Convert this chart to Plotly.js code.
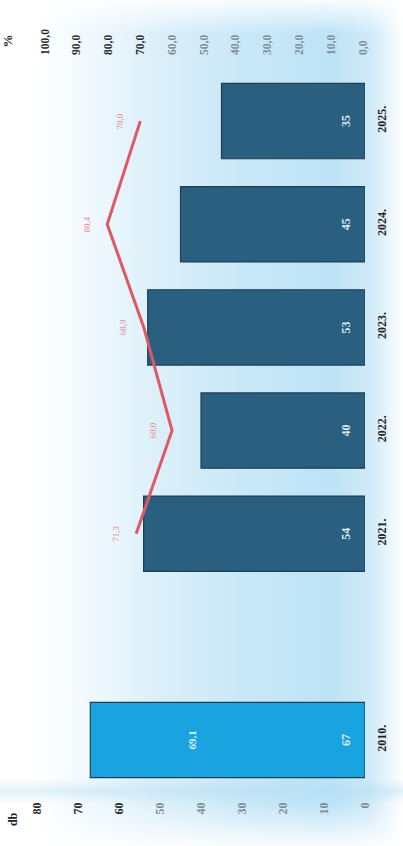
<!DOCTYPE html>
<html>
<head>
<meta charset="utf-8">
<script src="https://cdn.plot.ly/plotly-3.0.1.min.js"></script>
<style>
  html, body { margin: 0; padding: 0; background: #ffffff; }
  #wrap { position: relative; width: 403px; height: 846px; overflow: hidden; }
  #bg {
    position: absolute; left: 0; top: 0; width: 403px; height: 846px;
    background:
      linear-gradient(to bottom, rgba(255,255,255,0.9) 0%, rgba(255,255,255,0) 4%, rgba(255,255,255,0) 92%, rgba(170,215,240,0.35) 93.5%, rgba(255,255,255,0.0) 95%, rgba(255,255,255,0.9) 100%),
      linear-gradient(to right, #ffffff 0%, #ffffff 9%, #f2fafe 20%, #ddf0fa 38%, #c9e8f7 60%, #bde3f6 82%, #cfeaf8 92%, #ffffff 100%);
  }
  #chart { position: absolute; left: 0; top: 0; width: 403px; height: 846px; }
</style>
</head>
<body>
<div id="wrap">
  <div id="bg"></div>
  <div id="chart"></div>
</div>
<script>
// ---- data ----
const years = ['2010.', '2021.', '2022.', '2023.', '2024.', '2025.'];
const counts = [67, 54, 40, 53, 45, 35];
const pctYears = ['2021.', '2022.', '2023.', '2024.', '2025.'];
const pctValues = [71.3, 60.0, 68.9, 80.4, 70.0];
const label2010 = '69,1';
const dbTicks = [0, 10, 20, 30, 40, 50, 60, 70, 80];
const pctTicks = [0, 10, 20, 30, 40, 50, 60, 70, 80, 90, 100];
const gapCategory = ' ';

// ---- build ----
const categoryOrder = [years[0], gapCategory].concat(years.slice(1));
const catIndex = y => categoryOrder.indexOf(y);
const barColors = years.map((y, i) => i === 0 ? '#19a3df' : '#2b5f80');
const fmt = v => v.toFixed(1).replace('.', ',');

const serif = 'Liberation Serif, DejaVu Serif, serif';
const dbTickText = dbTicks.map(v => {
  const c = v >= 60 ? '#2a2a2a' : '#7f8c94';
  return '<span style="color:' + c + '">' + v + '</span>';
});
const pctTickText = pctTicks.map(v => {
  const c = v >= 70 ? '#2a2a2a' : '#7f8c94';
  return '<span style="color:' + c + '">' + fmt(v) + '</span>';
});

const barTrace = {
  type: 'bar',
  orientation: 'h',
  y: years,
  x: counts,
  xaxis: 'x',
  yaxis: 'y',
  marker: { color: barColors, line: { color: '#1d3f55', width: 1.2 } },
  hoverinfo: 'skip'
};

const gapTrace = {
  type: 'bar', orientation: 'h', y: [gapCategory], x: [null],
  xaxis: 'x', yaxis: 'y', showlegend: false, hoverinfo: 'skip'
};

const lineTrace = {
  type: 'scatter',
  mode: 'lines',
  y: pctYears,
  x: pctValues,
  xaxis: 'x2',
  yaxis: 'y',
  line: { color: '#e05866', width: 3 },
  hoverinfo: 'skip'
};

const annotations = pctYears.map((y, i) => ({
  x: pctValues[i], y: catIndex(y), xref: 'x2', yref: 'y',
  text: fmt(pctValues[i]), showarrow: false, textangle: -90,
  xshift: -20, font: { family: serif, size: 9, color: '#e98a8a' }
}));
years.forEach((y, i) => annotations.push({
  x: 0, y: catIndex(y), xref: 'x', yref: 'y',
  text: String(counts[i]), showarrow: false, textangle: -90,
  xshift: -19, font: { family: serif, size: 12, color: '#dfe8ee', weight: 700 }
}));
annotations.push({
  x: counts[0] / 2, y: catIndex(years[0]), xref: 'x', yref: 'y',
  text: label2010, showarrow: false, textangle: -90, xshift: -36,
  font: { family: serif, size: 11, color: '#d8eef8', weight: 700 }
});
annotations.push({
  x: -0.12, y: 1.04, xref: 'paper', yref: 'paper', text: '%', showarrow: false,
  textangle: -90, font: { family: serif, size: 13, color: '#222', weight: 700 }
});
annotations.push({
  x: -0.1, y: -0.052, xref: 'paper', yref: 'paper', text: 'db', showarrow: false,
  textangle: -90, font: { family: serif, size: 12, color: '#222', weight: 700 }
});

const layout = {
  width: 403, height: 846,
  margin: { l: 37, r: 38, t: 62, b: 56 },
  paper_bgcolor: 'rgba(0,0,0,0)',
  plot_bgcolor: 'rgba(0,0,0,0)',
  showlegend: false,
  bargap: 0.27,
  barmode: 'overlay',
  xaxis: {
    range: [80, 0], side: 'bottom', tickvals: dbTicks, ticktext: dbTickText,
    tickangle: -90, showgrid: false, zeroline: false, showline: false, ticks: '',
    tickfont: { family: serif, size: 12, weight: 700 }, ticklabelstandoff: 9
  },
  xaxis2: {
    range: [102.5, -0.7], side: 'top', overlaying: 'x', anchor: 'y',
    tickvals: pctTicks, ticktext: pctTickText,
    tickangle: -90, showgrid: false, zeroline: false, showline: false, ticks: '',
    tickfont: { family: serif, size: 11.5, weight: 700 }, ticklabelstandoff: 6
  },
  yaxis: {
    type: 'category', categoryorder: 'array', categoryarray: categoryOrder,
    range: [-0.485, 6.573], side: 'right', tickangle: -90,
    showgrid: false, zeroline: false, showline: false, ticks: '',
    tickfont: { family: serif, size: 12, color: '#222', weight: 700 },
    ticklabelstandoff: 8
  },
  annotations: annotations
};

Plotly.newPlot('chart', [gapTrace, barTrace, lineTrace], layout, { displayModeBar: false, staticPlot: true });
</script>
</body>
</html>
